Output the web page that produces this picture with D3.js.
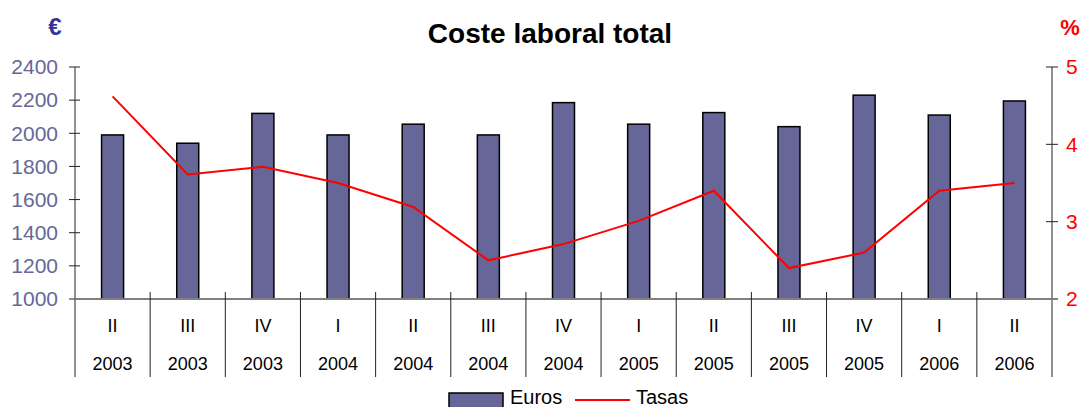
<!DOCTYPE html>
<html><head><meta charset="utf-8">
<script src="https://cdn.jsdelivr.net/npm/d3@7"></script>
<style>body{margin:0;background:#fff;} svg{display:block;font-family:"Liberation Sans",Arial,sans-serif;}</style>
</head><body>
<svg id="chart" width="1083" height="407"></svg>
<script>
const quarters = ["II","III","IV","I","II","III","IV","I","II","III","IV","I","II"];
const years = ["2003","2003","2003","2004","2004","2004","2004","2005","2005","2005","2005","2006","2006"];
const euros = [1990,1940,2120,1990,2055,1990,2185,2055,2125,2040,2230,2110,2195];
const tasas = [4.62,3.61,3.71,3.50,3.19,2.50,2.71,3.01,3.40,2.40,2.60,3.40,3.50];
const leftTicks = [1000,1200,1400,1600,1800,2000,2200,2400];
const rightTicks = [2,3,4,5];

const svg = d3.select("#chart");
const L = 75, R = 1052, T = 67, B = 299;
const idx = d3.range(quarters.length);
const x = d3.scaleBand().domain(idx).range([L, R]).padding(0);
const yL = d3.scaleLinear().domain([1000,2400]).range([B, T]);
const yR = d3.scaleLinear().domain([2,5]).range([B, T]);
const barW = 22;

// title
svg.append("text").attr("x", 550).attr("y", 43).attr("text-anchor","middle")
  .attr("font-size", 28).attr("font-weight","bold").attr("fill","#000").text("Coste laboral total");
svg.append("text").attr("x", 55).attr("y", 35).attr("text-anchor","middle")
  .attr("font-size", 24).attr("font-weight","bold").attr("fill","#333399").text("€");
svg.append("text").attr("x", 1070).attr("y", 35).attr("text-anchor","middle")
  .attr("font-size", 22).attr("font-weight","bold").attr("fill","#ff0000").text("%");

// bars
svg.append("g").selectAll("rect").data(idx).join("rect")
  .attr("x", i => x(i) + x.bandwidth()/2 - barW/2)
  .attr("y", i => yL(euros[i]))
  .attr("width", barW)
  .attr("height", i => B - yL(euros[i]))
  .attr("fill", "#666699").attr("stroke", "#000").attr("stroke-width", 1.5);

// left axis
const gL = svg.append("g").attr("transform", `translate(${L},0)`)
  .call(d3.axisLeft(yL).tickValues(leftTicks).tickSize(0).tickFormat(d3.format("d")).tickPadding(17));
gL.select(".domain").remove();
gL.selectAll("text").attr("font-size", 21).attr("fill", "#666699").attr("font-family","Liberation Sans, Arial, sans-serif");
svg.append("line").attr("x1", L).attr("x2", L).attr("y1", T).attr("y2", 377).attr("stroke", "#222").attr("stroke-width", 1);
svg.append("g").selectAll("line").data(leftTicks).join("line")
  .attr("x1", L-6).attr("x2", L+5).attr("y1", d => yL(d)).attr("y2", d => yL(d)).attr("stroke", "#222");

// right axis
const gR = svg.append("g").attr("transform", `translate(${R},0)`)
  .call(d3.axisRight(yR).tickValues(rightTicks).tickSize(0).tickFormat(d3.format("d")).tickPadding(14));
gR.select(".domain").remove();
gR.selectAll("text").attr("font-size", 21).attr("fill", "#ff0000").attr("font-family","Liberation Sans, Arial, sans-serif");
svg.append("line").attr("x1", R).attr("x2", R).attr("y1", T).attr("y2", 377).attr("stroke", "#222").attr("stroke-width", 1);
svg.append("g").selectAll("line").data(rightTicks).join("line")
  .attr("x1", R-6).attr("x2", R+6).attr("y1", d => yR(d)).attr("y2", d => yR(d)).attr("stroke", "#222");

// bottom axis
svg.append("line").attr("x1", L).attr("x2", R+6).attr("y1", B).attr("y2", B).attr("stroke", "#808080").attr("stroke-width", 2);
const bounds = d3.range(1, quarters.length).map(i => x(i));
svg.append("g").selectAll("line").data(bounds).join("line")
  .attr("x1", d => d).attr("x2", d => d).attr("y1", B - 7).attr("y2", 377).attr("stroke", "#222");
svg.append("g").selectAll("text").data(idx).join("text")
  .attr("x", i => x(i) + x.bandwidth()/2).attr("y", 332).attr("text-anchor","middle")
  .attr("font-size", 18).attr("fill","#000").text(i => quarters[i]);
svg.append("g").selectAll("text").data(idx).join("text")
  .attr("x", i => x(i) + x.bandwidth()/2).attr("y", 370).attr("text-anchor","middle")
  .attr("font-size", 18).attr("fill","#000").text(i => years[i]);

// line
const line = d3.line().x(i => x(i) + x.bandwidth()/2).y(i => yR(tasas[i]));
svg.append("path").datum(idx).attr("d", line).attr("fill","none").attr("stroke","#ff0000").attr("stroke-width", 2);

// legend
svg.append("rect").attr("x", 449).attr("y", 393).attr("width", 54).attr("height", 20)
  .attr("fill", "#666699").attr("stroke", "#000").attr("stroke-width", 1.5);
svg.append("text").attr("x", 510).attr("y", 404).attr("font-size", 20).attr("fill","#000").text("Euros");
svg.append("line").attr("x1", 575).attr("x2", 630).attr("y1", 400).attr("y2", 400).attr("stroke","#ff0000").attr("stroke-width", 2);
svg.append("text").attr("x", 636).attr("y", 404).attr("font-size", 20).attr("fill","#000").text("Tasas");
</script>
</body></html>
